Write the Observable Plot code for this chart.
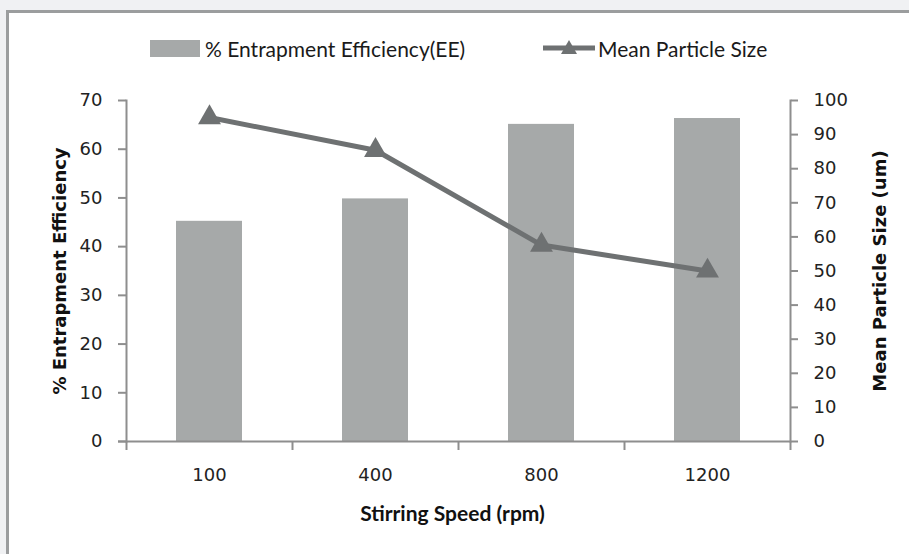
<!DOCTYPE html>
<html><head><meta charset="utf-8">
<script src="https://cdn.jsdelivr.net/npm/d3@7"></script>
<script src="https://cdn.jsdelivr.net/npm/@observablehq/plot@0.6"></script>
<style>
body{margin:0;background:#f0f1f3;}
#wrap{position:relative;width:909px;height:554px;overflow:hidden;}
#panel{position:absolute;left:6px;top:10px;width:960px;height:600px;background:#fff;border-left:3px solid #9b9d9e;border-top:3px solid #9b9d9e;}
#chart{position:absolute;left:0;top:0;}
.lg{position:absolute;font-family:Lato,"Noto Sans",sans-serif;font-size:21px;color:#1a1a1a;white-space:nowrap;line-height:1;}
</style></head>
<body>
<div id="wrap">
  <div id="panel"></div>
  <div id="chart"></div>
  <div style="position:absolute;left:150px;top:40px;width:50px;height:17px;background:#a6a9a9;"></div>
  <div class="lg" id="lg1" style="left:205px;top:38px;">% Entrapment Efficiency(EE)</div>
  <svg style="position:absolute;left:540px;top:36px;" width="58" height="24">
    <line x1="3" y1="12" x2="55" y2="12" stroke="#6e7172" stroke-width="5"/>
    <path d="M29,4 L37,18 L21,18 Z" fill="#6e7172"/>
  </svg>
  <div class="lg" id="lg2" style="left:598px;top:38px;">Mean Particle Size</div>
</div>
<script>
const speeds = ["100", "400", "800", "1200"];
const efficiency = [45.2, 49.8, 65.1, 66.3];
const particleSize = [95, 85.4, 57.6, 50];
const leftTicks = [0, 10, 20, 30, 40, 50, 60, 70];
const rightTicks = [0, 10, 20, 30, 40, 50, 60, 70, 80, 90, 100];

const W = 909, H = 554, mL = 126, mR = 119, mT = 100, mB = 113;
const ratio = 70 / 100;
const data = speeds.map((s, i) => ({speed: s, ee: efficiency[i], size: particleSize[i] * ratio}));
const step = (W - mL - mR) / speeds.length;
const axisColor = "#8e8e8e";
const lineColor = "#6e7172";

const chart = Plot.plot({
  width: W, height: H,
  marginLeft: mL, marginRight: mR, marginTop: mT, marginBottom: mB,
  style: {background: "transparent", fontFamily: "DejaVu Sans", fontSize: "18px", color: "#222"},
  x: {domain: speeds, paddingInner: 0.6, paddingOuter: 0.3, axis: null},
  y: {domain: [0, 70], axis: null},
  marks: [
    Plot.barY(data, {x: "speed", y: "ee", fill: "#a6a9a9"}),
    Plot.ruleY([0], {stroke: axisColor, strokeWidth: 2, insetLeft: -8}),
    Plot.ruleX(speeds, {x: d => d, y1: 0, y2: 0, dx: -step / 2, insetBottom: -9, stroke: axisColor, strokeWidth: 2}),
    Plot.ruleX([speeds[speeds.length - 1]], {x: d => d, y1: 0, y2: 0, dx: step / 2, insetBottom: -9, stroke: axisColor, strokeWidth: 2}),
    Plot.frame({anchor: "left", stroke: axisColor, strokeWidth: 2}),
    Plot.frame({anchor: "right", stroke: axisColor, strokeWidth: 2}),
    Plot.axisY(leftTicks, {anchor: "left", tickSize: 8, tickPadding: 16, stroke: axisColor, strokeWidth: 2, fill: "#222", label: null, fontSize: 18}),
    Plot.axisY(rightTicks.map(v => v * ratio), {anchor: "right", tickFormat: d => Math.round(d / ratio), tickSize: 7, tickPadding: 16, stroke: axisColor, strokeWidth: 2, fill: "#222", label: null, fontSize: 18}),
    Plot.axisX({tickSize: 0, tickPadding: 27, fill: "#222", label: null, fontSize: 18}),
    Plot.line(data, {x: "speed", y: "size", stroke: lineColor, strokeWidth: 5}),
    Plot.dot(data, {x: "speed", y: "size", symbol: "triangle", r: 8.5, fill: lineColor}),
    Plot.text(["% Entrapment Efficiency"], {text: d => d, frameAnchor: "left", dx: -66, rotate: -90, textAnchor: "middle", lineAnchor: "middle", fontWeight: "bold", fontSize: 18, fontFamily: "DejaVu Sans", fill: "#111"}),
    Plot.text(["Mean Particle Size (um)"], {text: d => d, frameAnchor: "right", dx: 90, rotate: -90, textAnchor: "middle", lineAnchor: "middle", fontWeight: "bold", fontSize: 18, fontFamily: "DejaVu Sans", fill: "#111"}),
    Plot.text(["Stirring Speed (rpm)"], {text: d => d, frameAnchor: "bottom", dx: -6, dy: 73, textAnchor: "middle", lineAnchor: "middle", fontWeight: "bold", fontSize: 21, fontFamily: "Lato", fill: "#111"})
  ]
});
document.getElementById("chart").appendChild(chart);
</script>
</body></html>
